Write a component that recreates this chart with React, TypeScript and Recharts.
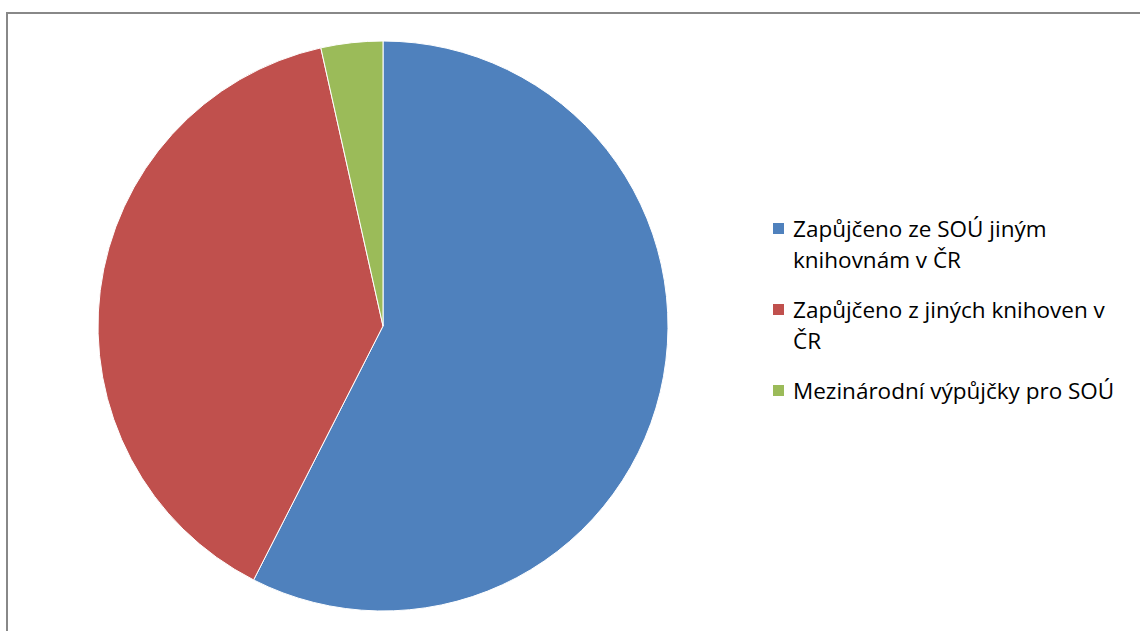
import { Cell, Legend, Pie, PieChart } from 'recharts';

const labels = [
  'Zapůjčeno ze SOÚ jiným knihovnám v ČR',
  'Zapůjčeno z jiných knihoven v ČR',
  'Mezinárodní výpůjčky pro SOÚ',
];
const values = [575, 390, 35];
const colors = ['#4F81BD', '#C0504D', '#9BBB59'];

const data = labels.map((name, i) => ({ name, value: values[i] }));

function LegendBox() {
  return (
    <div style={{ width: 360 }}>
      {labels.map((name, i) => (
        <div
          key={name}
          style={{
            display: 'flex',
            alignItems: 'flex-start',
            marginBottom: 19,
            fontFamily: 'Open Sans, sans-serif',
            fontSize: 22.5,
            lineHeight: '31px',
            color: '#000',
          }}
        >
          <span
            style={{
              display: 'inline-block',
              width: 11,
              height: 11,
              background: colors[i],
              marginTop: 10,
              marginRight: 9,
              flex: 'none',
            }}
          />
          <span style={{ width: 340 }}>{name}</span>
        </div>
      ))}
    </div>
  );
}

export default function App() {
  return (
    <div
      style={{
        position: 'fixed',
        left: 0,
        top: 0,
        width: 1140,
        height: 631,
        overflow: 'hidden',
        background: '#fff',
      }}
    >
      <div style={{ position: 'absolute', left: 0, top: 0 }}>
        <PieChart
          width={1140}
          height={631}
          margin={{ top: 0, right: 0, bottom: 0, left: 0 }}
        >
          <Pie
            data={data}
            dataKey="value"
            nameKey="name"
            cx={383}
            cy={326}
            outerRadius={285}
            startAngle={90}
            endAngle={-270}
            stroke="#fff"
            strokeWidth={1}
            isAnimationActive={false}
          >
            {data.map((entry, i) => (
              <Cell key={`cell-${entry.name}`} fill={colors[i]} />
            ))}
          </Pie>
          <Legend
            content={<LegendBox />}
            wrapperStyle={{ left: 773, top: 213, width: 360 }}
          />
        </PieChart>
      </div>
      <div
        style={{
          position: 'absolute',
          left: 6,
          top: 12,
          width: 1134,
          height: 2,
          background: '#888',
        }}
      />
      <div
        style={{
          position: 'absolute',
          left: 6,
          top: 12,
          width: 2,
          height: 619,
          background: '#888',
        }}
      />
    </div>
  );
}
